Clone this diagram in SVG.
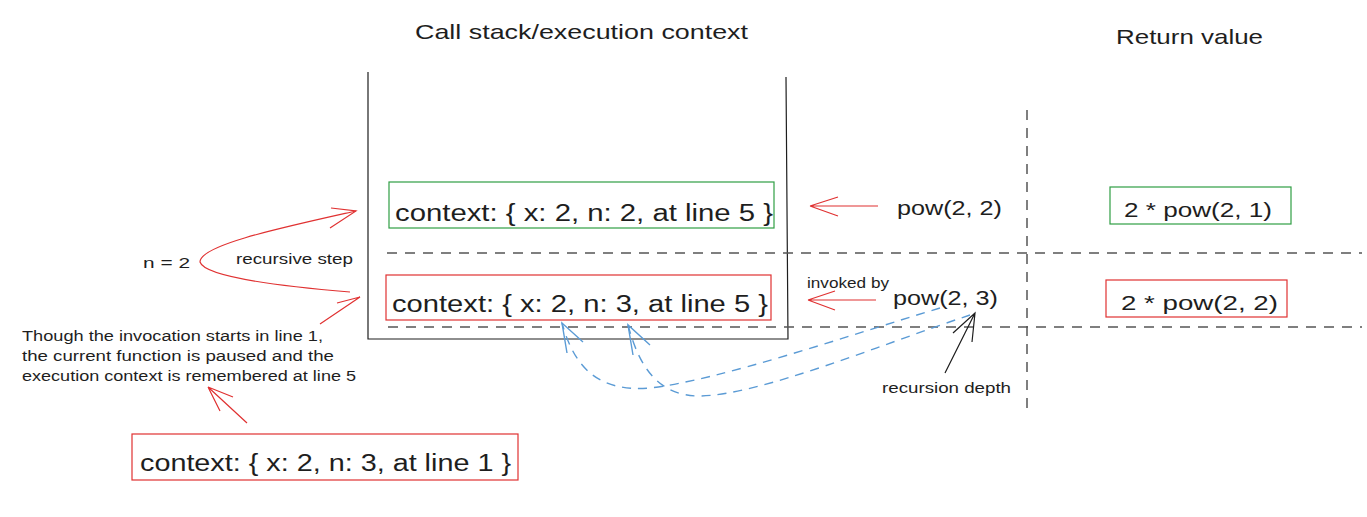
<svg xmlns="http://www.w3.org/2000/svg" width="1367" height="517" viewBox="0 0 1367 517">
<defs>
<style>
text{font-family:"Liberation Sans","DejaVu Sans",sans-serif;fill:#1e1e1e}
.big{font-size:23px}
.mid{font-size:21px}
.sm{font-size:14px}
.red{fill:none;stroke:#e03131;stroke-width:1.2}
.green{fill:none;stroke:#2f9e44;stroke-width:1.2}
.dash{fill:none;stroke:#555;stroke-width:1.5;stroke-dasharray:10 8}
.blue{fill:none;stroke:#5b9bd5;stroke-width:1.4;stroke-dasharray:9 7}
.blueh{fill:none;stroke:#5b9bd5;stroke-width:1.4}
.blk{fill:none;stroke:#1e1e1e;stroke-width:1.2}
</style>
</defs>
<rect width="1367" height="517" fill="#fff"/>

<g id="titles">
<text class="mid" x="415" y="39" textLength="333" lengthAdjust="spacingAndGlyphs">Call stack/execution context</text>
<text class="mid" x="1116" y="44" textLength="147" lengthAdjust="spacingAndGlyphs">Return value</text>
</g>

<g id="stack">
<path class="blk" d="M368 72 L368 339 L788 339 L786 77"/>
</g>

<g id="grid">
<path class="dash" d="M387 253 H1362"/>
<path class="dash" d="M388 327 H1362"/>
<path class="dash" d="M1027 110 V415"/>
</g>

<g id="ctx-top">
<rect class="green" x="389" y="182" width="385" height="46"/>
<text class="big" x="395" y="221" textLength="378" lengthAdjust="spacingAndGlyphs">context: { x: 2, n: 2, at line 5 }</text>
</g>

<g id="ctx-mid">
<rect class="red" x="386" y="275" width="385" height="45"/>
<text class="big" x="392" y="312" textLength="376" lengthAdjust="spacingAndGlyphs">context: { x: 2, n: 3, at line 5 }</text>
</g>

<g id="ctx-bottom">
<rect class="red" x="132" y="434" width="386" height="46"/>
<text class="big" x="140" y="471" textLength="371" lengthAdjust="spacingAndGlyphs">context: { x: 2, n: 3, at line 1 }</text>
</g>

<g id="ret-top">
<rect class="green" x="1110" y="187" width="181" height="37"/>
<text class="mid" x="1124" y="217" textLength="148" lengthAdjust="spacingAndGlyphs">2 * pow(2, 1)</text>
</g>

<g id="ret-mid">
<rect class="red" x="1106" y="280" width="181" height="37"/>
<text class="mid" x="1121" y="310" textLength="157" lengthAdjust="spacingAndGlyphs">2 * pow(2, 2)</text>
</g>

<g id="calls">
<text class="mid" x="897" y="215" textLength="105" lengthAdjust="spacingAndGlyphs">pow(2, 2)</text>
<text class="mid" x="893" y="305" textLength="105" lengthAdjust="spacingAndGlyphs">pow(2, 3)</text>
<text class="sm" x="807" y="288" textLength="82" lengthAdjust="spacingAndGlyphs">invoked by</text>
</g>

<g id="labels">
<text class="sm" x="143" y="268" textLength="47" lengthAdjust="spacingAndGlyphs">n = 2</text>
<text class="sm" x="236" y="264" textLength="117" lengthAdjust="spacingAndGlyphs">recursive step</text>
<text class="sm" x="882" y="393" textLength="129" lengthAdjust="spacingAndGlyphs">recursion depth</text>
<text class="sm" x="22" y="341" textLength="301" lengthAdjust="spacingAndGlyphs">Though the invocation starts in line 1,</text>
<text class="sm" x="22" y="361" textLength="312" lengthAdjust="spacingAndGlyphs">the current function is paused and the</text>
<text class="sm" x="22" y="381" textLength="334" lengthAdjust="spacingAndGlyphs">execution context is remembered at line 5</text>
</g>

<g id="connectors">
<!-- pow(2,2) arrow -->
<path class="red" d="M878 206 L810 206 M810 206 L838 197 M810 206 L838 216"/>
<!-- pow(2,3) arrow -->
<path class="red" d="M876 300 L808 300 M808 300 L835 291 M808 300 L835 310"/>
<!-- recursive step curve -->
<path class="red" d="M356 211 C280 228 200 245 200 262 C205 278 290 287 350 292"/>
<path class="red" d="M331 208 L356 211 L330 228"/>
<path class="red" d="M337 303 L360 297 L320 324"/>
<!-- to paragraph -->
<path class="red" d="M247 423 L208 387 M208 387 L233 397 M208 387 L220 411"/>
<!-- recursion depth -->
<path class="blk" d="M945 373 L975 313 M953 333 L975 313 L972 342"/>
<!-- blue dashed -->
<path class="blue" d="M940 308 C850 335 720 380 650 388 C600 392 575 370 562 323"/>
<path class="blueh" d="M567 353 L562 323 L583 342"/>
<path class="blue" d="M970 315 C880 345 760 395 700 396 C660 396 640 370 628 325"/>
<path class="blueh" d="M633 355 L628 325 L650 345"/>
</g>
</svg>
